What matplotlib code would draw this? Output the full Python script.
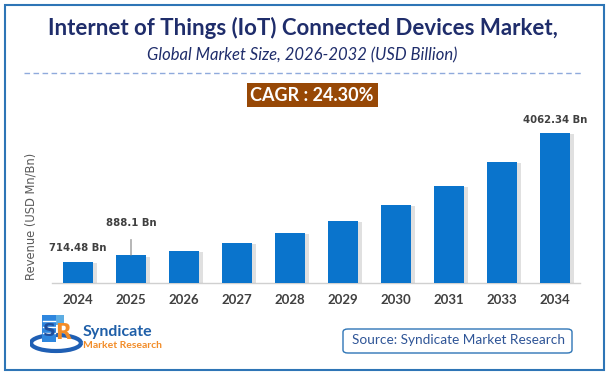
import matplotlib
matplotlib.use('Agg')
import matplotlib.pyplot as plt
import matplotlib.patheffects as pe
from matplotlib.patches import Rectangle, FancyBboxPatch, Arc
import numpy as np

# data
years = ['2024', '2025', '2026', '2027', '2028', '2029', '2030', '2031', '2033', '2034']
revenue = [714.48, 888.1, 1000, 1208, 1468, 1779, 2195, 2688, 3312, 4062.34]
labels = {0: '714.48 Bn', 1: '888.1 Bn', 9: '4062.34 Bn'}

W, H = 609, 375
fig = plt.figure(figsize=(W / 100, H / 100), dpi=100)
fig.patch.set_facecolor('white')

def fx(x):
    return x / W

def fy(y):
    return 1 - y / H

navy = '#1F2D6B'
bar_blue = '#0A74CC'
txt_gray = '#404040'

# outer border
fig.patches.append(Rectangle((fx(5), fy(370)), fx(599), 365 / H, transform=fig.transFigure,
                             fill=False, edgecolor='#2E75B6', linewidth=1.5))

# titles
fig.text(fx(303), fy(28), 'Internet of Things (IoT) Connected Devices Market,', ha='center', va='center',
         fontsize=16, fontweight='bold', color=navy, family='Lato')
fig.text(fx(302), fy(55), 'Global Market Size, 2026-2032 (USD Billion)', ha='center', va='center',
         fontsize=12, style='italic', color=navy, family='Lato')
fig.add_artist(plt.Line2D([fx(24), fx(582)], [fy(73), fy(73)], transform=fig.transFigure,
                          color='#8FAADC', linewidth=1, linestyle=(0, (4, 2.5))))

# CAGR box
fig.patches.append(Rectangle((fx(247), fy(107)), fx(131), 24 / H, transform=fig.transFigure,
                             facecolor='#974806', edgecolor='none'))
fig.text(fx(312), fy(95.5), 'CAGR : 24.30%', ha='center', va='center', fontsize=13,
         fontweight='bold', color='white', family='Lato')

# bar axes
base_px, top_px = 283, 100
left_px, right_px = 52, 580
ax = fig.add_axes([fx(left_px), fy(base_px), (right_px - left_px) / W, (base_px - top_px) / H])
v0 = 170.0
scale = (283 - 133) / (revenue[-1] - v0)
ax.set_ylim(v0, v0 + (base_px - top_px) / scale)
step = 53.0
ax.set_xlim(-(78 - left_px) / step, (right_px - 78) / step)

x = np.arange(len(years))
bars = ax.bar(x, [r - v0 for r in revenue], bottom=v0, width=0.58, color=bar_blue, zorder=3)
for b in bars:
    b.set_path_effects([pe.SimplePatchShadow(offset=(2.5, -1), shadow_rgbFace='#9A9A9A', alpha=0.3),
                        pe.Normal()])

for sp in ['top', 'right', 'left']:
    ax.spines[sp].set_visible(False)
ax.spines['bottom'].set_color('#D0D0D0')
ax.spines['bottom'].set_linewidth(1)
ax.set_yticks([])
ax.set_xticks(x)
ax.set_xticklabels(years, fontsize=9.5, fontweight='bold', color=txt_gray, family='Lato')
ax.tick_params(axis='x', length=0, pad=8)
ax.set_facecolor('none')
ax.set_ylabel('Revenue (USD Mn/Bn)', fontsize=8.3, color='#595959')
ax.yaxis.set_label_coords(-0.028, (base_px - 216) / (base_px - top_px))

# value labels
ax.annotate(labels[0], (x[0], revenue[0]), xytext=(0, 10), textcoords='offset points',
            ha='center', va='center', fontsize=7.3, fontweight='bold', color=txt_gray)
ax.annotate(labels[1], (x[1], revenue[1]), xytext=(0, 23), textcoords='offset points',
            ha='center', va='center', fontsize=7.3, fontweight='bold', color=txt_gray,
            arrowprops=dict(arrowstyle='-', color='#808080', lw=0.8, shrinkA=6, shrinkB=0))
ax.annotate(labels[9], (x[9], revenue[9]), xytext=(0, 9.5), textcoords='offset points',
            ha='center', va='center', fontsize=7.3, fontweight='bold', color=txt_gray)

# logo
lax = fig.add_axes([fx(30), fy(356), fx(54), 44 / H])
lax.set_xlim(0, 54)
lax.set_ylim(44, 0)
lax.axis('off')
lax.add_patch(Arc((26, 31), 50, 16, theta1=0, theta2=360, color='#1F5FB4', linewidth=3))
lax.add_patch(Rectangle((12, 3), 14, 27, facecolor='#2E86DE', edgecolor='none'))
lax.add_patch(Rectangle((26, 3), 8, 10, facecolor='#5DADE2', edgecolor='none'))
for yy in (9, 15, 21):
    lax.plot([13, 25], [yy, yy], color='white', lw=1)
lax.text(19, 19, 'S', ha='center', va='center', fontsize=13, fontweight='bold', color='#1F4E9C')
lax.text(33, 21, 'R', ha='center', va='center', fontsize=15, fontweight='bold', color='#F28C28')
fig.text(fx(83), fy(332), 'Syndicate', ha='left', va='center', fontsize=11.5, fontweight='bold',
         color='#1F5FA8', family='Lato')
fig.text(fx(83), fy(345), 'Market Research', ha='left', va='center', fontsize=7.5, fontweight='bold',
         color='#F28C28', family='Lato')

# source box
fig.patches.append(FancyBboxPatch((fx(343), fy(353)), fx(229), 24 / H, transform=fig.transFigure,
                                  boxstyle='round,pad=0,rounding_size=0.008', facecolor='white',
                                  edgecolor='#2E75B6', linewidth=1))
fig.text(fx(459), fy(340.5), 'Source: Syndicate Market Research', ha='center', va='center',
         fontsize=9.8, color='#2F5597', family='Lato')

fig.savefig('out.png', dpi=100)
